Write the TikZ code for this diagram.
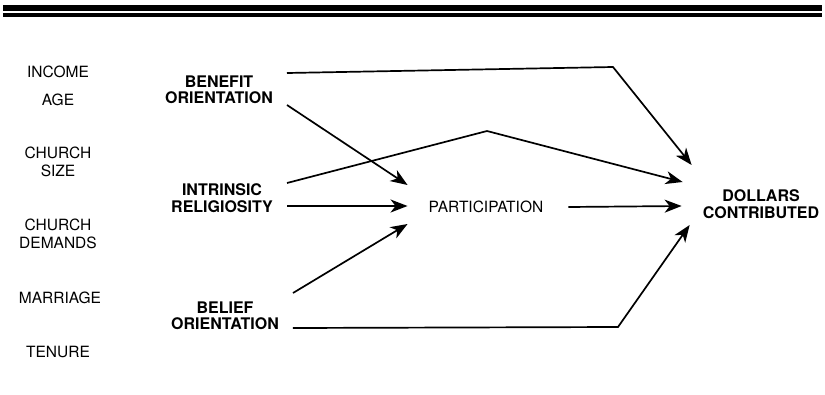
\documentclass[tikz,border=0pt]{standalone}
\usepackage{fontspec}
\setmainfont{TeX Gyre Heros}
\usetikzlibrary{arrows.meta,calc}

\begin{document}
\begin{tikzpicture}[x=1pt, y=-1pt,
var/.style={font=\fontsize{15.5}{18}\selectfont, align=center},
mainvar/.style={font=\fontsize{16}{16.5}\selectfont\bfseries, align=center, inner xsep=14pt, inner ysep=0pt},
endvar/.style={font=\fontsize{15.5}{16}\selectfont, align=center, inner xsep=21pt, inner ysep=0pt},
link/.style={-{Stealth[length=17pt, width=13pt, inset=5pt]}, line width=1.7pt},
]
\useasboundingbox (0,0) rectangle (825,394);
%Rules
\fill (3,5) rectangle (822,11);
\fill (3,13) rectangle (822,17);

%Nodes
\node[var] (income) at (58,72) {INCOME};
\node[var] (age) at (58,100) {AGE};
\node[var] (size) at (58,162) {CHURCH\\SIZE};
\node[var] (demands) at (58,234) {CHURCH\\DEMANDS};
\node[var] (marriage) at (60,298) {MARRIAGE};
\node[var] (tenure) at (58,352) {TENURE};

\node[mainvar] (benefit) at (219,90) {BENEFIT\\ORIENTATION};
\node[mainvar] (intrinsic) at (222,198) {INTRINSIC\\RELIGIOSITY};
\node[mainvar] (belief) at (225,316) {BELIEF\\ORIENTATION};

\node[endvar] (part) at (486,207) {PARTICIPATION};
\node[endvar, font=\fontsize{16}{17.5}\selectfont\bfseries] (dollars) at (761,204) {DOLLARS\\CONTRIBUTED};

\coordinate (benefitbend) at (613,67);
\coordinate (intrinsicbend) at (487,131);
\coordinate (beliefbend) at (618,327);

%Lines
\draw[link] ($(benefit.east)+(0,-17)$) -- (benefitbend) -- ($(dollars.west)+(10,-39)$);
\draw[link] ($(benefit.east)+(0,15)$) -- ($(part.west)+(0,-22)$);
\draw[link] ($(intrinsic.east)+(0,-15)$) -- (intrinsicbend) -- ($(dollars.west)+(1,-22)$);
\draw[link] ($(intrinsic.east)+(0,8)$) -- ($(part.west)+(0,-1)$);
\draw[link] ($(belief.east)+(0,-23)$) -- ($(part.west)+(0,17)$);
\draw[link] ($(belief.east)+(0,12)$) -- (beliefbend) -- ($(dollars.west)+(8,21)$);
\draw[link] ($(part.east)+(4,0)$) -- ($(dollars.west)+(0,2)$);

\end{tikzpicture}
\end{document}
